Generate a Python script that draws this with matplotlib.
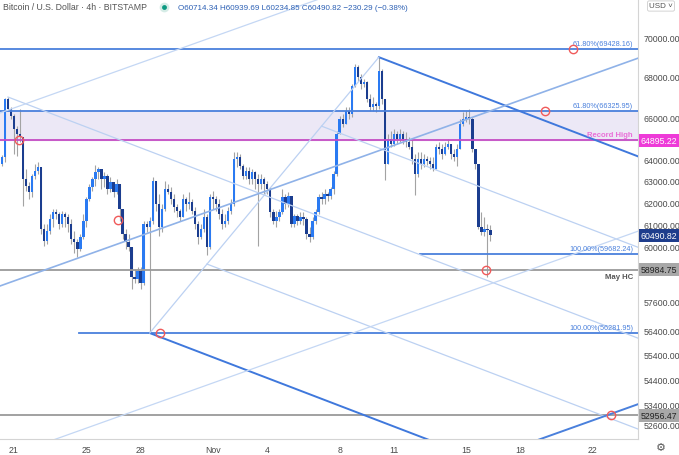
import matplotlib
matplotlib.use("Agg")
import matplotlib.pyplot as plt
import matplotlib.dates as mdates
from matplotlib.lines import Line2D
from matplotlib.ticker import FixedLocator, FixedFormatter, NullLocator
import numpy as np
import pandas as pd

plt.rcParams['font.family'] = ['Liberation Sans', 'DejaVu Sans']

# BTC/USD 4h candles (Bitstamp), first bar opens 2021-10-20 08:00
first_open = 63750
closes = [
    64100, 66900, 66400, 66060, 65430, 65200, 65050, 63070, 62740, 62470,
    63210, 63440, 63630, 60790, 60250, 60700, 61240, 61550, 61460, 61010,
    61460, 61320, 61010, 60340, 60210, 59900, 60430, 61150, 62150, 62700,
    63070, 63400, 63530, 63070, 63210, 62600, 62930, 62470, 62840, 61690,
    60560, 60210, 59990, 58680, 58590, 58940, 58380, 61010, 60880, 61150,
    62980, 61920, 60880, 61690, 62600, 62470, 62150, 61780, 61600, 61320,
    62150, 61920, 62010, 61600, 61010, 60430, 60790, 61320, 59990, 62240,
    62150, 61920, 61460, 61010, 61150, 61600, 61920, 64000, 64100, 63680,
    63210, 63440, 63070, 63400, 63070, 62840, 63070, 62840, 62600, 61550,
    61150, 61320, 61550, 62240, 61920, 62280, 61010, 61370, 61150, 61320,
    61240, 60560, 60430, 61150, 61550, 62240, 62150, 62380, 62280, 62600,
    63300, 65200, 65920, 65680, 66310, 66160, 67540, 68500, 67990, 67640,
    67740, 66900, 66500, 66650, 66550, 68290, 66900, 63770, 64950, 64710,
    65200, 64950, 65200, 64950, 64810, 64570, 64000, 63300, 64000, 63770,
    64000, 63910, 63770, 63530, 64570, 64480, 64240, 64570, 64710, 64240,
    64100, 64480, 65680, 65920, 66020, 65920, 64480, 63770, 60880, 60660,
    60790, 60714.34, 60490.82]
highs = [
    64200, 66950, 67000, 66500, 66160, 65580, 66400, 65050, 63530, 62930,
    63300, 63770, 63860, 63630, 61010, 61010, 61460, 61690, 61690, 61550,
    61600, 61550, 61460, 61240, 60700, 60340, 60560, 61460, 62240, 62840,
    63160, 63720, 63630, 63530, 63400, 63300, 63160, 62930, 63070, 62840,
    61690, 60790, 60560, 59990, 59025, 59110, 59110, 61150, 61150, 61320,
    63160, 62840, 62380, 61920, 62980, 62840, 62700, 62380, 61920, 61690,
    62380, 62240, 62470, 62150, 61780, 61150, 61010, 61690, 61460, 62380,
    62510, 62280, 62150, 61690, 61460, 61780, 62150, 64330, 64330, 64240,
    63770, 63630, 63630, 63530, 63440, 63300, 63300, 63160, 62980, 62700,
    61690, 61600, 61690, 62600, 62380, 62470, 62150, 61460, 61460, 61550,
    61550, 61320, 60880, 61320, 61690, 62380, 62470, 62600, 62470, 62700,
    63440, 65340, 66060, 66160, 66500, 66500, 67640, 68650, 68600, 68140,
    67890, 67790, 67150, 67000, 66750, 69000, 68400, 66900, 65200, 65340,
    65430, 65340, 65430, 65340, 65290, 65050, 64950, 64240, 64330, 64330,
    64240, 64140, 64100, 64100, 64710, 64810, 64710, 64810, 64950, 64710,
    64480, 64710, 65920, 66260, 66310, 66400, 66020, 64480, 63770, 61550,
    61320, 61010, 60939.69]
lows = [
    63650, 63860, 66310, 65920, 64240, 64140, 64810, 61830, 62510, 62150,
    62240, 63070, 63300, 60560, 60030, 60120, 60560, 60880, 61240, 60790,
    60880, 60880, 60650, 60120, 59730, 59550, 59810, 60340, 60880, 62060,
    62510, 62740, 63070, 62600, 62700, 62380, 62470, 62240, 62380, 61150,
    60340, 59900, 59810, 58160, 58380, 58380, 58160, 58300, 60650, 56281.95,
    61010, 61600, 60480, 60650, 61600, 62380, 61920, 61550, 61320, 61150,
    61320, 61600, 61690, 61460, 60790, 60120, 60340, 60650, 59600, 59900,
    61690, 61600, 61240, 60790, 60880, 61010, 61460, 61830, 63630, 63530,
    63070, 63070, 62840, 62840, 62600, 60030, 62600, 62380, 62380, 61320,
    61010, 60880, 61150, 61460, 61690, 61780, 60880, 60880, 60970, 61010,
    60970, 60340, 60210, 60340, 61010, 61460, 61920, 61920, 62060, 62150,
    62380, 63210, 65200, 65530, 65680, 65920, 66020, 67490, 67790, 67390,
    67490, 66750, 66310, 66310, 66260, 66400, 66650, 63000, 63770, 64570,
    64620, 64710, 64810, 64710, 64570, 64480, 63770, 62300, 63160, 63530,
    63630, 63720, 63530, 63440, 63530, 64240, 64000, 64190, 64480, 64000,
    63910, 63680, 64480, 65580, 65770, 65680, 64330, 63530, 60790, 60520,
    60480, 58650, 60234.85]

# horizontal levels
fib_levels = [69428.16, 66325.95, 59682.24, 56281.95]
fib_labels = ["61.80%(69428.16)", "61.80%(66325.95)", "100.00%(59682.24)", "100.00%(56281.95)"]
fib_starts = [None, None, "2021-11-12 10:00", "2021-10-24 14:00"]
record_high = 64895.22
may_hc = 58984.75
lower_support = 52956.47
last_price = 60490.82

# pitchfork anchors (Oct 20 high, Oct 28 low, Nov 10 high)
pf_a = ("2021-10-20 16:00", 67000.0)
pf_b = ("2021-10-28 12:00", 56281.95)
pf_c = ("2021-11-10 04:00", 69000.0)

# rising channel: centre line anchors, width ratio, parallels
chan_p1 = ("2021-10-20 00:00", 58210.0)
chan_p2 = ("2021-11-25 00:00", 69117.0)
chan_ratio = 1.1363
chan_offsets = [1, 0, -1, -2]

circle_dates = ["2021-10-21 06:00", "2021-10-26 18:00", "2021-10-29 02:00", "2021-11-16 02:00",
                "2021-11-19 08:00", "2021-11-20 22:00", "2021-11-23 00:00"]
circle_prices = [64895.22, 61177, 56281.95, 58984.75, 66325.95, 69428.16, 52956.47]

y_ticks = [52600, 53400, 54400, 55400, 56400, 57600, 60000, 61000, 62000, 63000, 64000,
           66000, 68000, 70000]
x_ticks = ["2021-10-21", "2021-10-25", "2021-10-28", "2021-11-01", "2021-11-04", "2021-11-08",
           "2021-11-11", "2021-11-15", "2021-11-18", "2021-11-22"]
x_labels = ["21", "25", "28", "Nov", "4", "8", "11", "15", "18", "22"]

W, H = 679, 456
fig = plt.figure(figsize=(W / 100, H / 100), dpi=100)
ax = fig.add_axes([0, 16 / H, 638 / W, 440 / H])

def dn(s):
    return mdates.date2num(pd.Timestamp(s))

times = pd.date_range("2021-10-20 08:00", periods=len(closes), freq="4h")
xs = mdates.date2num(times)
opens = [first_open] + closes[:-1]
x0, x1 = dn("2021-10-20 05:25"), dn("2021-11-24 11:46")
ax.set_xlim(x0, x1)
ax.set_yscale("log")
ax.set_ylim(52045, 72030)

up_col, dn_col, wick_col = "#2a7af2", "#1b3d8f", "#a3a3a3"
for xi, o, h, l, c in zip(xs, opens, highs, lows, closes):
    ax.vlines(xi, min(l, o, c), max(h, o, c), color=wick_col, lw=0.8, zorder=2)
    col = up_col if c >= o else dn_col
    lo, hi = min(o, c), max(o, c)
    if hi / lo < 1.0008:
        hi = lo * 1.0008
    ax.bar(xi, hi - lo, bottom=lo, width=0.13, color=col, lw=0, zorder=2.5)

# record-high zone
ax.axhspan(record_high, fib_levels[1], color="#ece8f6", zorder=0)
ax.axhline(record_high, color="#c54cc4", lw=1.3, zorder=3)

blue = "#4a80dc"
ytr = ax.get_yaxis_transform()
for lvl, lab, st in zip(fib_levels, fib_labels, fib_starts):
    xs0 = x0 if st is None else dn(st)
    ax.plot([xs0, x1], [lvl, lvl], color=blue, lw=1.3, zorder=3)
    ax.text(0.992, lvl * 1.0012, lab, transform=ytr, ha="right",
            va="bottom", fontsize=5.2, color="#4a80dc", zorder=5)

for lvl in [may_hc, lower_support]:
    ax.axhline(lvl, color="#9a9a9a", lw=1.3, zorder=3)
ax.text(0.992, record_high * 1.0015, "Record High", transform=ytr,
        ha="right", va="bottom", fontsize=5.6, color="#ea6fd8", fontweight="bold", zorder=5)
ax.text(0.992, may_hc * 0.9975, "May HC", transform=ytr,
        ha="right", va="top", fontsize=5.6, color="#555555", fontweight="bold", zorder=5)

# pitchfork in (date, log10 price)
A = np.array([dn(pf_a[0]), np.log10(pf_a[1])])
B = np.array([dn(pf_b[0]), np.log10(pf_b[1])])
C = np.array([dn(pf_c[0]), np.log10(pf_c[1])])
v = (B + C) / 2 - A

def ray(p, style):
    t = (x1 + 1 - p[0]) / v[0]
    q = p + t * v
    ax.plot([p[0], q[0]], [10 ** p[1], 10 ** q[1]], **style)

light = dict(color="#bcd1f2", lw=0.9, zorder=3)
dark = dict(color="#3f78dc", lw=1.4, zorder=3)
ray(A, light)
ray(B + 0.25 * (C - B), light)
ray(B + 0.75 * (C - B), light)
ray(B, dark)
ray(C, dark)
ax.plot([B[0], C[0]], [10 ** B[1], 10 ** C[1]], **light)

# rising channel
cx = [dn(chan_p1[0]), dn(chan_p2[0])]
for k in chan_offsets:
    ys = [chan_p1[1] * chan_ratio ** k, chan_p2[1] * chan_ratio ** k]
    if k == 0:
        st = dict(color="#8fb2e8", lw=1.2, zorder=3)
    elif k == -2:
        st = dict(color=blue, lw=1.4, zorder=3)
    else:
        st = dict(color="#c4d7f4", lw=0.9, zorder=3)
    ax.plot(cx, ys, **st)

ax.plot([dn(d) for d in circle_dates], circle_prices, "o", mfc="none", mec="#f05a5a",
        ms=6, mew=1, zorder=6)

# axes styling
for s in ["top", "left"]:
    ax.spines[s].set_visible(False)
ax.spines["right"].set_color("#d4d4d4")
ax.spines["bottom"].set_color("#d4d4d4")
ax.yaxis.tick_right()
ax.yaxis.set_major_locator(FixedLocator(y_ticks))
ax.yaxis.set_major_formatter(FixedFormatter([f"{t:.2f}" for t in y_ticks]))
ax.yaxis.set_minor_locator(NullLocator())
ax.tick_params(axis="y", length=0, pad=4, labelsize=6.3, labelcolor="#4a4a4a")
ax.set_xticks([dn(t) for t in x_ticks])
ax.set_xticklabels(x_labels)
ax.tick_params(axis="x", length=0, pad=4, labelsize=6.3, labelcolor="#4a4a4a")

# price tags on the scale
tags = [(record_high, "#ee3ad8", "white"), (last_price, "#1e3d8c", "white"),
        (may_hc, "#a8a8a8", "#222222"), (lower_support, "#a8a8a8", "#222222")]
for p, fc, tc in tags:
    ax.text(1.004, p, f"{p:.2f}", transform=ytr, ha="left", va="center", fontsize=6.3,
            color=tc, zorder=7, clip_on=False,
            bbox=dict(boxstyle="square,pad=0.22", fc=fc, ec="none"))

# header
fig.text(3 / W, 1 - 8 / H, "Bitcoin / U.S. Dollar · 4h · BITSTAMP", fontsize=6.3,
         color="#555555", va="center")
fig.add_artist(Line2D([164 / W], [1 - 8 / H], marker="o", ms=7, mfc="#d5ece6", mec="none",
                      transform=fig.transFigure))
fig.add_artist(Line2D([164 / W], [1 - 8 / H], marker="o", ms=3.5, mfc="#0b9981", mec="none",
                      transform=fig.transFigure))
fig.text(178 / W, 1 - 8 / H, "O60714.34 H60939.69 L60234.85 C60490.82 −230.29 (−0.38%)",
         fontsize=5.8, color="#2b5fb4", va="center")
fig.text(661 / W, 1 - 7 / H, "USD ˅", fontsize=5.8, color="#555555", va="center", ha="center",
         bbox=dict(boxstyle="round,pad=0.2", fc="white", ec="#cccccc", lw=0.6))
fig.text(661 / W, 1 - 448 / H, "⚙", fontsize=8, color="#555555", va="center", ha="center")

fig.savefig("out.png", dpi=100)
